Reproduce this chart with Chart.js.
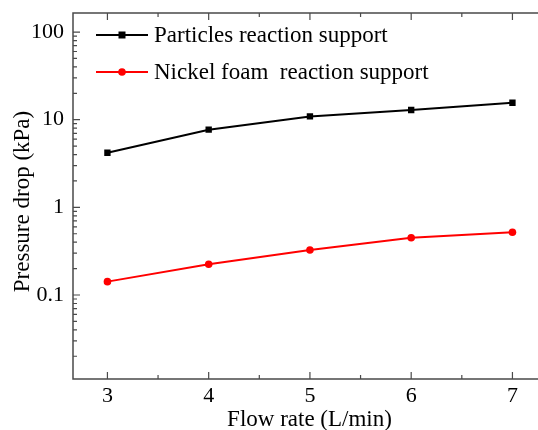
<!DOCTYPE html>
<html>
<head>
<meta charset="utf-8">
<script src="https://cdn.jsdelivr.net/npm/chart.js@4.4.1/dist/chart.umd.min.js"></script>
<style>
  body { margin: 0; background: #fff; }
  canvas { display: block; }
</style>
</head>
<body>
<canvas id="pressure_drop" width="538" height="430"></canvas>
<script>
// flow rate (L/min)
var flowRates = [3, 4, 5, 6, 7];
// pressure drop (kPa)
var particlesDrop = [4.2, 7.7, 10.9, 12.9, 15.6];
var nickelFoamDrop = [0.142, 0.224, 0.326, 0.45, 0.52];
var seriesNames = ["Particles reaction support", "Nickel foam  reaction support"];
var xTitle = "Flow rate (L/min)";
var yTitle = "Pressure drop (kPa)";
var xTickValues = [3, 4, 5, 6, 7];
var yTickValues = [0.1, 1, 10, 100];

var serif = "'Liberation Serif', 'Times New Roman', serif";
var axisColor = "#4a4a4a";

function noPad(s) {
  s.paddingTop = 0; s.paddingBottom = 0; s.paddingLeft = 0; s.paddingRight = 0;
}

// frame (open on the right), inward ticks, axis titles and legend
var framePlugin = {
  id: "frame",
  afterDraw: function (chart) {
    var ctx = chart.ctx;
    var a = chart.chartArea;
    var W = chart.width;
    var xs = chart.scales.x, ys = chart.scales.y;
    ctx.save();
    // the plot runs off the right edge of the picture
    ctx.fillStyle = "#fff";
    ctx.fillRect(W - 8, 0, 8, chart.height);

    ctx.strokeStyle = axisColor;
    ctx.lineWidth = 1.5;
    ctx.beginPath();
    ctx.moveTo(W, a.top); ctx.lineTo(a.left, a.top);
    ctx.lineTo(a.left, a.bottom); ctx.lineTo(W, a.bottom);
    ctx.stroke();

    ctx.lineWidth = 1.2;
    ctx.beginPath();
    // x ticks, bottom and top
    for (var v = 2.5; v <= 7.5; v += 0.5) {
      var px = xs.getPixelForValue(v);
      if (px < a.left + 1 || px > W - 1) continue;
      var len = (v % 1 === 0) ? 7 : 4;
      ctx.moveTo(px, a.bottom); ctx.lineTo(px, a.bottom - len);
      ctx.moveTo(px, a.top); ctx.lineTo(px, a.top + len);
    }
    // y ticks, log decades with minors
    for (var d = -2; d <= 2; d++) {
      for (var m = 1; m <= 9; m++) {
        var val = m * Math.pow(10, d);
        var py = ys.getPixelForValue(val);
        if (py < a.top + 1 || py > a.bottom - 1) continue;
        var l = (m === 1) ? 7 : 4;
        ctx.moveTo(a.left, py); ctx.lineTo(a.left + l, py);
      }
    }
    ctx.stroke();

    // axis titles
    ctx.fillStyle = "#000";
    ctx.font = "23px " + serif;
    ctx.textAlign = "center";
    ctx.textBaseline = "alphabetic";
    ctx.fillText(xTitle, 309.5, 426);
    ctx.save();
    ctx.translate(29, 201.5);
    ctx.rotate(-Math.PI / 2);
    ctx.fillText(yTitle, 0, 0);
    ctx.restore();

    // legend
    var rows = [35, 72];
    ctx.textAlign = "left";
    ctx.textBaseline = "middle";
    chart.data.datasets.forEach(function (ds, i) {
      var y = rows[i];
      ctx.strokeStyle = ds.borderColor;
      ctx.lineWidth = 2;
      ctx.beginPath();
      ctx.moveTo(96, y); ctx.lineTo(148, y);
      ctx.stroke();
      ctx.fillStyle = ds.backgroundColor;
      if (ds.pointStyle === "rect") {
        ctx.fillRect(118.5, y - 3.5, 7, 7);
      } else {
        ctx.beginPath();
        ctx.arc(122, y, 3.8, 0, Math.PI * 2);
        ctx.fill();
      }
      ctx.fillStyle = "#000";
      ctx.fillText(ds.label, 154, y + 1);
    });
    ctx.restore();
  }
};

var ctx = document.getElementById("pressure_drop");
var pressureChart = new Chart(ctx, {
  type: "line",
  data: {
    datasets: [{
      label: seriesNames[0],
      data: flowRates.map(function (x, i) { return { x: x, y: particlesDrop[i] }; }),
      borderColor: "#000000",
      backgroundColor: "#000000",
      borderWidth: 2,
      pointStyle: "rect",
      pointRadius: 4.5,
      pointBorderWidth: 0,
      fill: false
    }, {
      label: seriesNames[1],
      data: flowRates.map(function (x, i) { return { x: x, y: nickelFoamDrop[i] }; }),
      borderColor: "#ff0000",
      backgroundColor: "#ff0000",
      borderWidth: 2,
      pointStyle: "circle",
      pointRadius: 3.8,
      pointBorderWidth: 0,
      fill: false
    }]
  },
  options: {
    responsive: false,
    animation: false,
    layout: { padding: { top: 13, right: 0, left: 0, bottom: 0 } },
    plugins: { legend: { display: false }, tooltip: { enabled: false } },
    scales: {
      x: {
        type: "linear",
        min: 2.66,
        max: 7.208,
        grid: { display: false, drawTicks: false },
        border: { display: false },
        afterBuildTicks: function (s) { s.ticks = xTickValues.map(function (v) { return { value: v }; }); },
        afterFit: function (s) { s.height = 51; noPad(s); },
        ticks: { color: "#000", font: { family: serif, size: 22 }, padding: 4, maxRotation: 0 },
        title: { display: false }
      },
      y: {
        type: "logarithmic",
        min: 0.011,
        max: 165,
        grid: { display: false, drawTicks: false },
        border: { display: false },
        afterBuildTicks: function (s) { s.ticks = yTickValues.map(function (v) { return { value: v }; }); },
        afterFit: function (s) { s.width = 73; noPad(s); },
        ticks: {
          color: "#000", font: { family: serif, size: 22 }, padding: 9,
          callback: function (v) { return String(v); }
        },
        title: { display: false }
      }
    }
  },
  plugins: [framePlugin]
});
</script>
</body>
</html>
